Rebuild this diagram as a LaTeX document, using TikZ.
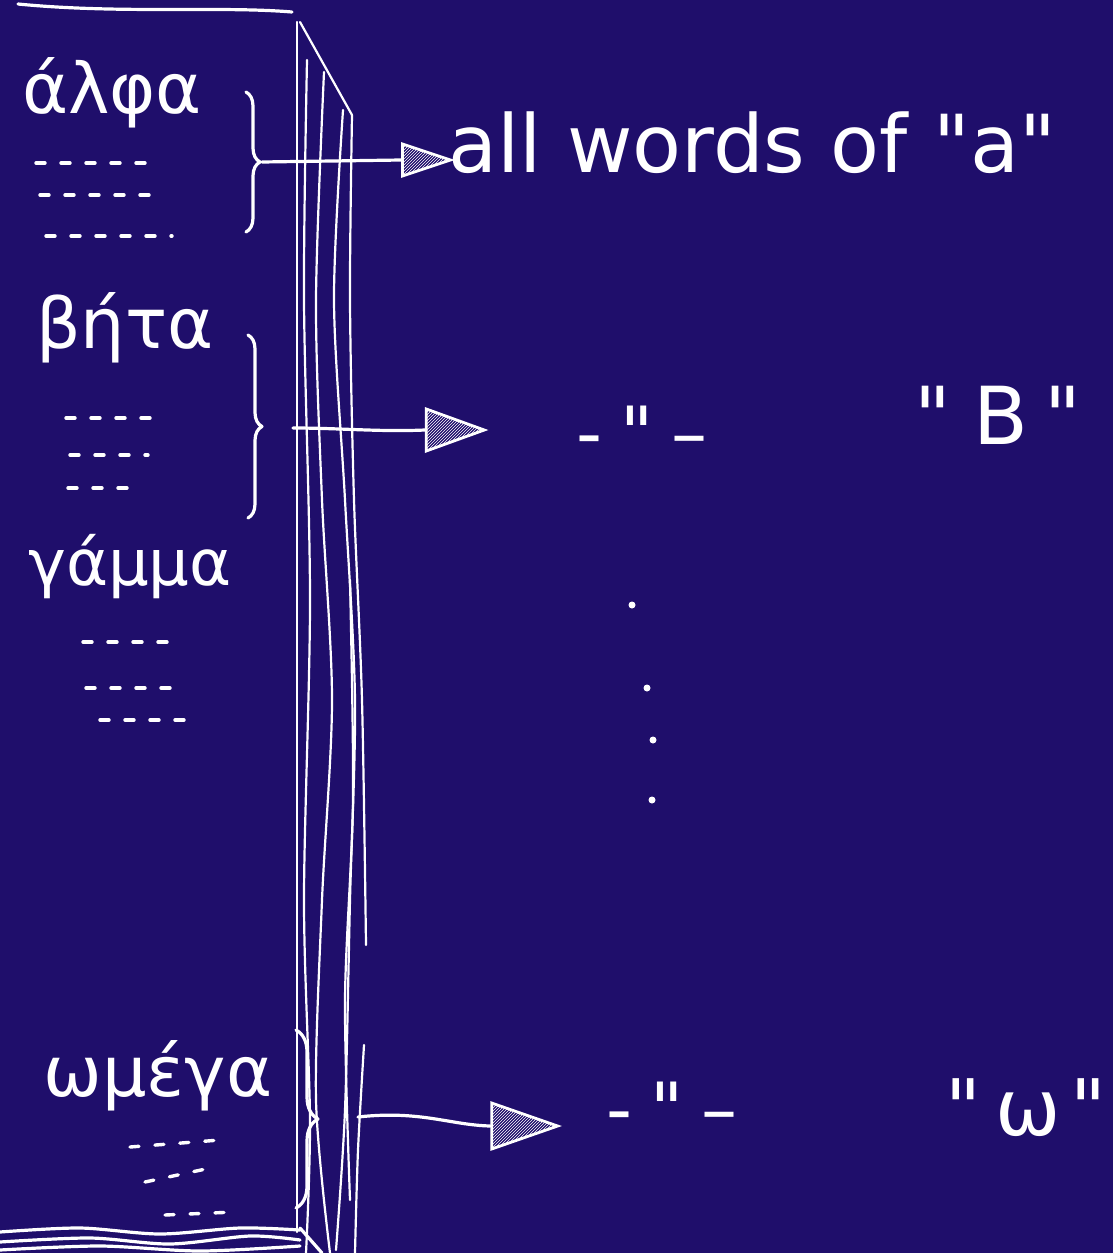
\documentclass[tikz,border=0pt]{standalone}
\usepackage{fontspec}
\newfontfamily\handfont{DejaVu Sans}
\usetikzlibrary{decorations.pathreplacing,shapes.geometric,patterns}
\definecolor{board}{RGB}{31,14,107}
\tikzset{
  ink/.style={draw=white, line width=3.2pt, line cap=round, line join=round},
  thin ink/.style={draw=white, line width=2.2pt, line cap=round},
  greek/.style={text=white, font=\handfont\fontsize{70}{70}\selectfont, inner sep=0pt},
  hand/.style={text=white, font=\handfont\fontsize{80}{80}\selectfont, inner sep=0pt},
  filler/.style={draw=white, line width=3.4pt, line cap=round, dash pattern=on 9pt off 16pt},
  bracestyle/.style={ink, decorate, decoration={brace, amplitude=14pt}},
  tip/.style={isosceles triangle, isosceles triangle stretches, shape border rotate=0,
     draw=white, line width=2.8pt, pattern=north east lines, pattern color=white, inner sep=0pt},
}
\begin{document}
\begin{tikzpicture}[x=1pt,y=-1pt]
\fill[board] (0,0) rectangle (1113,1253);
\useasboundingbox (0,0) rectangle (1113,1253);

% top edge
\draw[ink] (18,4) .. controls (120,14) and (220,6) .. (292,12);

% book spine lines
\draw[thin ink] (297,22) -- (297,1232);
\draw[thin ink] (300,22) -- (352,115);
\draw[thin ink] plot[smooth] coordinates {(307,60) (304,300) (310,600) (304,900) (310,1120) (306,1253)};
\draw[thin ink] plot[smooth] coordinates {(324,72) (316,300) (322,500) (332,700) (322,900) (316,1100) (330,1253)};
\draw[thin ink] plot[smooth] coordinates {(343,110) (334,300) (345,500) (355,700) (350,900) (345,1110) (336,1250)};
\draw[thin ink] plot[smooth] coordinates {(352,115) (350,300) (354,500) (362,700) (366,945)};
\draw[thin ink] plot[smooth] coordinates {(364,1045) (358,1150) (355,1253)};
\draw[thin ink] plot[smooth] coordinates {(350,580) (353,800) (345,1000) (350,1200)};

% bottom edge
\draw[ink] plot[smooth] coordinates {(0,1232) (80,1228) (160,1234) (240,1228) (300,1230)};
\draw[ink] plot[smooth] coordinates {(0,1242) (90,1238) (170,1244) (250,1236) (300,1240)};
\draw[ink] plot[smooth] coordinates {(0,1250) (100,1246) (200,1251) (300,1246)};
\draw[ink] (300,1228) -- (322,1253);

% greek words
\node[greek] (alpha) at (112,93) {άλφα};
\node[greek] (beta) at (125,328) {βήτα};
\node[greek, font=\handfont\fontsize{64}{64}\selectfont] (gamma) at (130,567) {γάμμα};
\node[greek] (omega) at (158,1076) {ωμέγα};

% filler dashes
\draw[filler] (36,163) -- (155,163);
\draw[filler] (40,195) -- (163,195);
\draw[filler] (46,236) -- (172,236);
\draw[filler] (66,418) -- (150,418);
\draw[filler] (70,455) -- (148,455);
\draw[filler] (68,488) -- (142,488);
\draw[filler] (83,642) -- (180,642);
\draw[filler] (86,688) -- (180,688);
\draw[filler] (100,720) -- (196,720);
\draw[filler] (130,1147) -- (220,1140);
\draw[filler] (145,1182) -- (215,1167);
\draw[filler] (165,1215) -- (235,1212);

% braces
\coordinate (a1) at (246,92);
\coordinate (a2) at (246,232);
\draw[bracestyle] (a1) -- (a2) coordinate[midway, xshift=16pt] (atip);
\coordinate (b1) at (248,335);
\coordinate (b2) at (248,518);
\draw[bracestyle] (b1) -- (b2) coordinate[midway, xshift=16pt] (btip);
\coordinate (w1) at (296,1030);
\coordinate (w2) at (296,1208);
\draw[bracestyle, decoration={brace, amplitude=22pt}] (w1) -- (w2);

% arrow tips
\node[tip, minimum width=32pt, minimum height=48pt] (ta) at (414,160) {};
\node[tip, minimum width=42pt, minimum height=58pt] (tb) at (441,430) {};
\node[tip, minimum width=46pt, minimum height=66pt] (tw) at (508,1126) {};

% connectors
\coordinate (bs) at (293,428);
\coordinate (ws) at (358,1117);
\draw[ink] (atip) -- (ta.west);
\draw[ink] (bs) .. controls (340,428) and (380,432) .. (tb.west);
\draw[ink] (ws) .. controls (420,1110) and (450,1125) .. (tw.west);

% right labels
\node[hand, anchor=base west] (lab1) at (448,172) {all words of "a"};
\node[hand, font=\handfont\fontsize{72}{72}\selectfont] (ditto1) at (642,432) {-\hspace{18pt}"\hspace{18pt}–};
\node[hand, font=\handfont\fontsize{80}{80}\selectfont] (quoteB) at (998,415) {"\hspace{22pt}B\hspace{16pt}"};
\node[hand, font=\handfont\fontsize{72}{72}\selectfont] (ditto2) at (672,1108) {-\hspace{18pt}"\hspace{18pt}–};
\node[hand, font=\handfont\fontsize{78}{78}\selectfont] (quoteW) at (1026,1108) {"\hspace{14pt}ω\hspace{10pt}"};

% vertical dots
\fill[white] (632,605) circle (3.5pt);
\fill[white] (647,688) circle (3.5pt);
\fill[white] (653,740) circle (3.5pt);
\fill[white] (652,800) circle (3.5pt);
\end{tikzpicture}
\end{document}
